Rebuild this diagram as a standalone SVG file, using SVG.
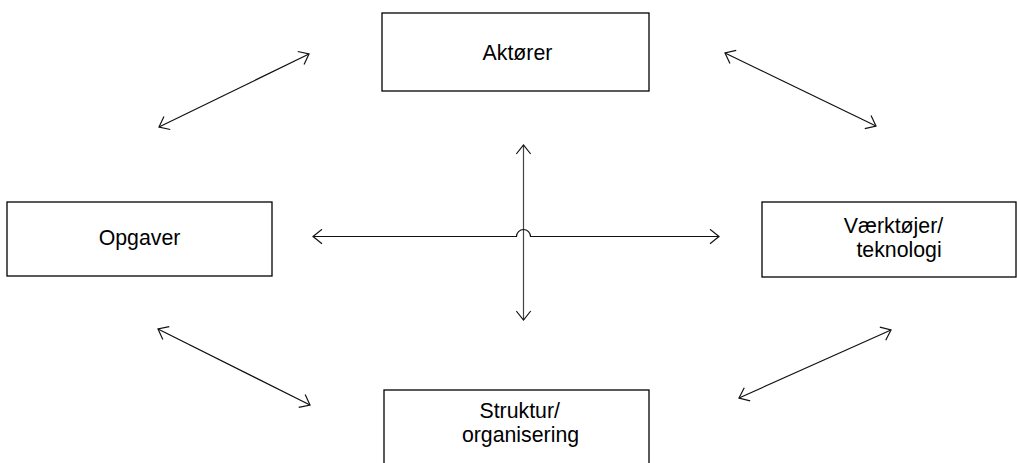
<svg xmlns="http://www.w3.org/2000/svg" width="1017" height="463" viewBox="0 0 1017 463">
<style>
.box{fill:#fff;stroke:#000;stroke-width:1.3}
.lbl{font-family:"Liberation Sans",Arial,sans-serif;font-size:21.3px;fill:#000}
.con{fill:none;stroke:#111;stroke-width:1.2}
.v{stroke:#444}
</style>
<defs>
<marker id="ah" markerUnits="userSpaceOnUse" viewBox="0 0 11 16" refX="10" refY="8" markerWidth="11" markerHeight="16" orient="auto-start-reverse">
<path d="M1,0.8 L10,8 L1,15.2" fill="none" stroke="#111" stroke-width="1.2"/>
</marker>
</defs>
<rect width="1017" height="463" fill="#fff"/>
<g id="connectors">
<line class="con" x1="159" y1="127" x2="309" y2="54" marker-start="url(#ah)" marker-end="url(#ah)"/>
<line class="con" x1="725" y1="53" x2="876" y2="126" marker-start="url(#ah)" marker-end="url(#ah)"/>
<line class="con" x1="158" y1="329" x2="310" y2="405" marker-start="url(#ah)" marker-end="url(#ah)"/>
<line class="con" x1="739" y1="398" x2="891" y2="330" marker-start="url(#ah)" marker-end="url(#ah)"/>
<line class="con v" x1="523.5" y1="145" x2="523.5" y2="320" marker-start="url(#ah)" marker-end="url(#ah)"/>
<path class="con" d="M313,236.5 L516.5,236.5 A7,7 0 0 1 530.5,236.5 L719,236.5" marker-start="url(#ah)" marker-end="url(#ah)"/>
</g>
<g id="aktorer">
<rect class="box" x="382" y="13" width="267" height="78"/>
<text class="lbl" x="517.5" y="60" text-anchor="middle">Aktører</text>
</g>
<g id="opgaver">
<rect class="box" x="7" y="202" width="265" height="74"/>
<text class="lbl" x="139.5" y="245" text-anchor="middle">Opgaver</text>
</g>
<g id="vaerktoejer">
<rect class="box" x="762" y="202" width="254" height="75"/>
<text class="lbl" x="893.5" y="233" text-anchor="middle">Værktøjer/</text>
<text class="lbl" x="899" y="257" text-anchor="middle">teknologi</text>
</g>
<g id="struktur">
<rect class="box" x="384" y="390" width="265" height="90"/>
<text class="lbl" x="519.7" y="418" text-anchor="middle">Struktur/</text>
<text class="lbl" x="520.5" y="442" text-anchor="middle">organisering</text>
</g>
</svg>
